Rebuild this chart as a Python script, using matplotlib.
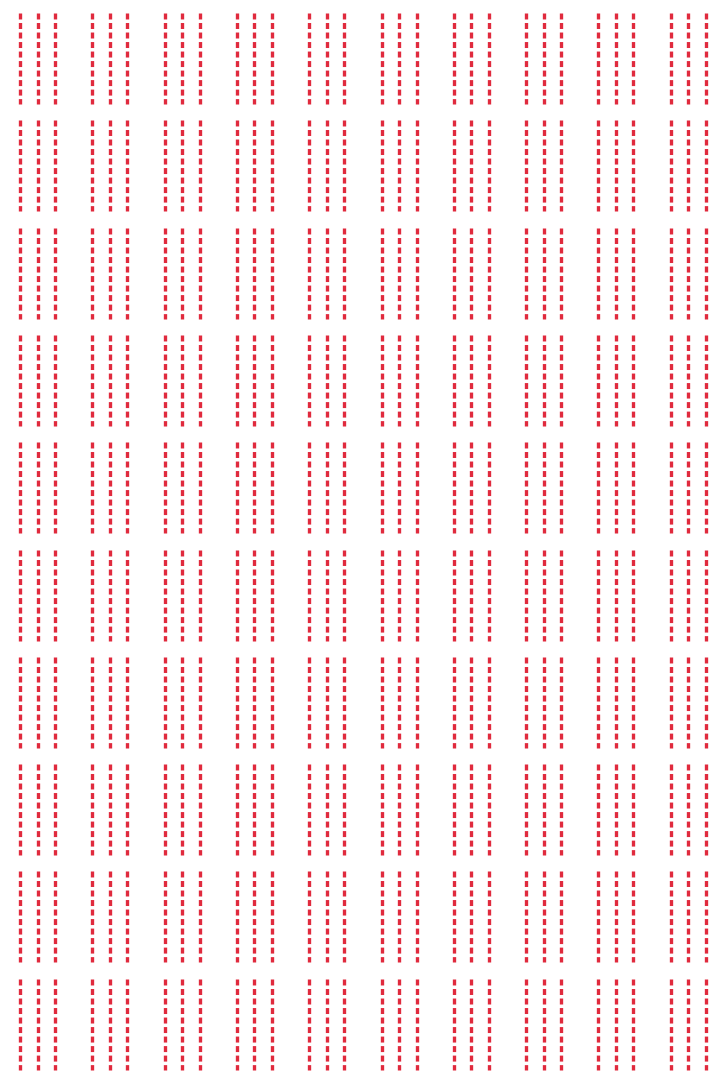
import numpy as np
import matplotlib
matplotlib.use("Agg")
import matplotlib.pyplot as plt

# grid of cells, each cell holds three dashed vertical strokes
columns = list(range(10))
rows = list(range(10))
stroke_offsets = [-0.242, 0.0, 0.242]   # position of the strokes inside a cell
stroke_length = 0.848                    # fraction of a row covered by the dashes

plt.rcParams['lines.scale_dashes'] = False

fig = plt.figure(figsize=(7.14, 10.75), dpi=100)
ax = fig.add_axes([0, 0, 1, 1])

red = '#e02a3d'
for r in rows:
    xs = [c + off for c in columns for off in stroke_offsets]
    ax.vlines(xs, r, r + stroke_length, colors=red, linewidth=2.4,
              linestyles=[(0, (4.3, 2.55))], capstyle='butt')

ax.set_xlim(-0.519, 9.357)
ax.set_ylim(9.897, -0.121)
ax.axis('off')

fig.savefig('out.png', dpi=100, facecolor='white')
